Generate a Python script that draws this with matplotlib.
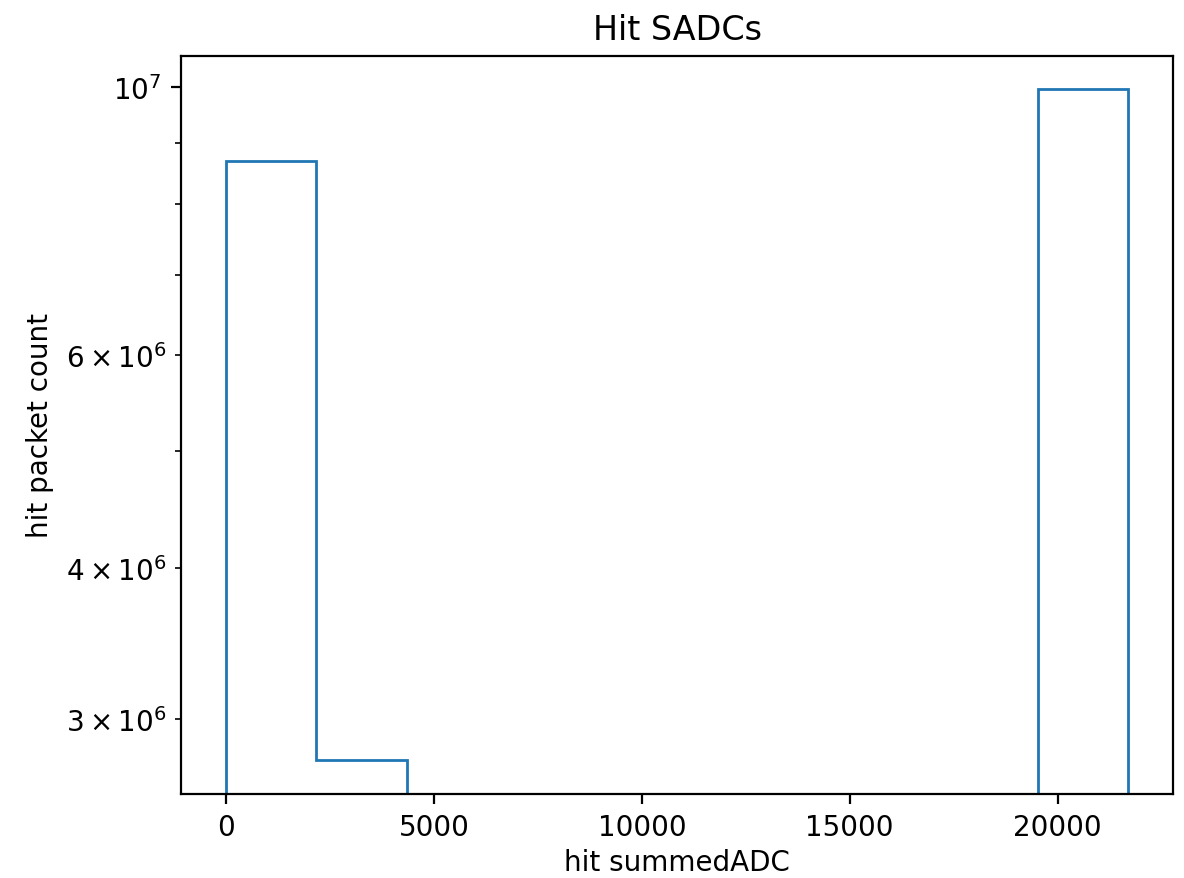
import numpy as np
import matplotlib
matplotlib.use("Agg")
import matplotlib.pyplot as plt

# Histogram bins (hit summedADC) and counts
bin_edges = np.linspace(0, 21700, 11)
bin_counts = [8.685e6, 2.771e6, 0, 0, 0, 0, 0, 0, 0, 9.97e6]

title = "Hit SADCs"
xlabel = "hit summedADC"
ylabel = "hit packet count"

fig = plt.figure(figsize=(5.92, 4.395), dpi=200)
ax = fig.add_axes([181 / 1184, 1 - 795 / 879, (1173.3 - 181) / 1184, (795 - 56.5) / 879])

centers = 0.5 * (bin_edges[:-1] + bin_edges[1:])
ax.hist(centers, bins=bin_edges, weights=bin_counts, histtype="step", log=True)

ax.set_title(title)
ax.set_xlabel(xlabel, labelpad=2.5)
ax.set_ylabel(ylabel)

fig.savefig("out.png", dpi=200)
